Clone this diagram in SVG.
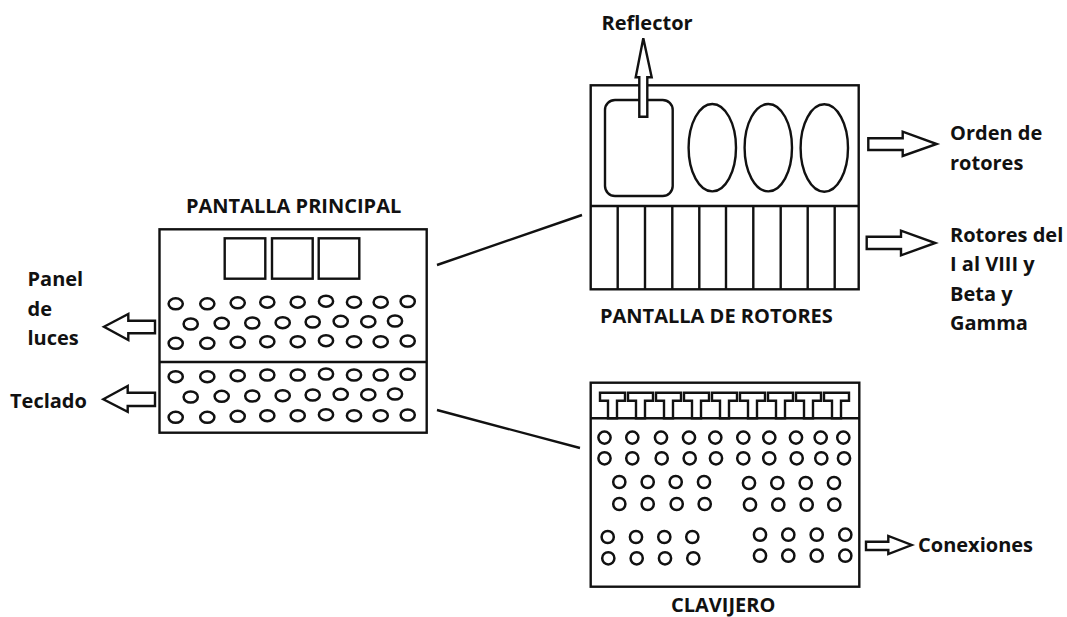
<svg xmlns="http://www.w3.org/2000/svg" width="1067" height="617" viewBox="0 0 1067 617">
<style>
text{font-family:"Open Sans","Noto Sans","Liberation Sans",sans-serif;font-weight:700;font-size:20px;fill:#111}
.s{fill:#fff;stroke:#111;stroke-width:2.4}
.n{fill:none;stroke:#111;stroke-width:2.4}
.d{fill:#fff;stroke:#111;stroke-width:2.5}
</style>
<rect width="1067" height="617" fill="#fff"/>
<g id="connectors">
<path class="n" d="M437 265L582 215M437 410L580 448"/>
</g>
<g id="pantalla-principal">
<text x="186" y="212.5">PANTALLA PRINCIPAL</text>
<rect class="s" x="159.5" y="229.3" width="267.2" height="203.4"/>
<path class="n" d="M159.5 362H426.7"/>
<rect class="s" x="224.7" y="238.3" width="40.6" height="40.4"/>
<rect class="s" x="272" y="238.3" width="40.7" height="40.4"/>
<rect class="s" x="318.7" y="238.3" width="40.6" height="40.4"/>
<g id="luces">
<ellipse class="d" cx="175.7" cy="303.8" rx="7.1" ry="5.5"/><ellipse class="d" cx="207.3" cy="303.8" rx="7.1" ry="5.5"/><ellipse class="d" cx="237.7" cy="302.8" rx="7.1" ry="5.5"/><ellipse class="d" cx="267.3" cy="302.2" rx="7.1" ry="5.5"/><ellipse class="d" cx="297.7" cy="302.2" rx="7.1" ry="5.5"/><ellipse class="d" cx="326" cy="301.2" rx="7.1" ry="5.5"/><ellipse class="d" cx="354" cy="302.2" rx="7.1" ry="5.5"/><ellipse class="d" cx="380.7" cy="302.2" rx="7.1" ry="5.5"/><ellipse class="d" cx="407.7" cy="301.5" rx="7.1" ry="5.5"/>
<ellipse class="d" cx="190.7" cy="324" rx="7.1" ry="5.5"/><ellipse class="d" cx="221.7" cy="323.3" rx="7.1" ry="5.5"/><ellipse class="d" cx="252.3" cy="323" rx="7.1" ry="5.5"/><ellipse class="d" cx="282.7" cy="322.7" rx="7.1" ry="5.5"/><ellipse class="d" cx="312.7" cy="322" rx="7.1" ry="5.5"/><ellipse class="d" cx="340.7" cy="321.3" rx="7.1" ry="5.5"/><ellipse class="d" cx="368.3" cy="321.7" rx="7.1" ry="5.5"/><ellipse class="d" cx="395" cy="321" rx="7.1" ry="5.5"/>
<ellipse class="d" cx="175.7" cy="343.3" rx="7.1" ry="5.5"/><ellipse class="d" cx="207.3" cy="343.3" rx="7.1" ry="5.5"/><ellipse class="d" cx="237.7" cy="342.3" rx="7.1" ry="5.5"/><ellipse class="d" cx="267.3" cy="341.7" rx="7.1" ry="5.5"/><ellipse class="d" cx="297.7" cy="341.7" rx="7.1" ry="5.5"/><ellipse class="d" cx="326" cy="340.7" rx="7.1" ry="5.5"/><ellipse class="d" cx="354" cy="341.7" rx="7.1" ry="5.5"/><ellipse class="d" cx="380.7" cy="341.7" rx="7.1" ry="5.5"/><ellipse class="d" cx="407.7" cy="341" rx="7.1" ry="5.5"/>
</g>
<g id="teclas">
<ellipse class="d" cx="175.7" cy="376.7" rx="7.1" ry="5.5"/><ellipse class="d" cx="207.3" cy="376.7" rx="7.1" ry="5.5"/><ellipse class="d" cx="237.7" cy="375.7" rx="7.1" ry="5.5"/><ellipse class="d" cx="267.3" cy="375" rx="7.1" ry="5.5"/><ellipse class="d" cx="297.7" cy="375" rx="7.1" ry="5.5"/><ellipse class="d" cx="326" cy="374" rx="7.1" ry="5.5"/><ellipse class="d" cx="354" cy="375" rx="7.1" ry="5.5"/><ellipse class="d" cx="380.7" cy="375" rx="7.1" ry="5.5"/><ellipse class="d" cx="407.7" cy="374.3" rx="7.1" ry="5.5"/>
<ellipse class="d" cx="190.7" cy="397" rx="7.1" ry="5.5"/><ellipse class="d" cx="221.7" cy="396.3" rx="7.1" ry="5.5"/><ellipse class="d" cx="252.3" cy="396" rx="7.1" ry="5.5"/><ellipse class="d" cx="282.7" cy="395.7" rx="7.1" ry="5.5"/><ellipse class="d" cx="312.7" cy="395" rx="7.1" ry="5.5"/><ellipse class="d" cx="340.7" cy="394.3" rx="7.1" ry="5.5"/><ellipse class="d" cx="368.3" cy="394.7" rx="7.1" ry="5.5"/><ellipse class="d" cx="395" cy="394" rx="7.1" ry="5.5"/>
<ellipse class="d" cx="175.7" cy="417.3" rx="7.1" ry="5.5"/><ellipse class="d" cx="207.3" cy="417.3" rx="7.1" ry="5.5"/><ellipse class="d" cx="237.7" cy="416.3" rx="7.1" ry="5.5"/><ellipse class="d" cx="267.3" cy="415.7" rx="7.1" ry="5.5"/><ellipse class="d" cx="297.7" cy="415.7" rx="7.1" ry="5.5"/><ellipse class="d" cx="326" cy="414.7" rx="7.1" ry="5.5"/><ellipse class="d" cx="354" cy="415.7" rx="7.1" ry="5.5"/><ellipse class="d" cx="380.7" cy="415.7" rx="7.1" ry="5.5"/><ellipse class="d" cx="407.7" cy="415" rx="7.1" ry="5.5"/>
</g>
<polygon class="s" points="104,326.7 128.3,314 128.3,320.7 155,320.7 155,333.3 128.3,333.3 128.3,340"/>
<polygon class="s" points="103.3,399.3 127.7,386 127.7,392.7 155,392.7 155,406 127.7,406 127.7,411.7"/>
<text x="27.5" y="286">Panel</text>
<text x="27.5" y="315.5">de</text>
<text x="27.5" y="345">luces</text>
<text x="10" y="408">Teclado</text>
</g>
<g id="pantalla-rotores">
<rect class="s" x="590.7" y="85.3" width="268" height="204"/>
<path class="n" d="M590.7 206H858.7M617.7 206V289M645 206V289M672.3 206V289M699.3 206V289M726 206V289M753.3 206V289M780.7 206V289M807.7 206V289M834.7 206V289"/>
<rect class="s" x="605" y="100" width="67.7" height="96" rx="10"/>
<ellipse class="s" cx="712.3" cy="147.7" rx="23.7" ry="43.7"/>
<ellipse class="s" cx="768.3" cy="147.7" rx="23.7" ry="43.7"/>
<ellipse class="s" cx="824.3" cy="148" rx="23.7" ry="43.7"/>
<polygon class="s" points="643.3,38.3 651.7,77.3 647.3,77.3 647.3,116.7 639.3,116.7 639.3,77.3 635.7,77.3"/>
<polygon class="s" points="868.3,138.3 902.7,138.3 902.7,131.7 936.7,144 902.7,156 902.7,150 868.3,150"/>
<polygon class="s" points="866.7,236.7 901,236.7 901,230.7 935.3,243 901,255.3 901,249 866.7,249"/>
<text x="601.5" y="30">Reflector</text>
<text x="950" y="140">Orden de</text>
<text x="950" y="170">rotores</text>
<text x="950" y="241.5">Rotores del</text>
<text x="950" y="271">I al VIII y</text>
<text x="950" y="301">Beta y</text>
<text x="950" y="330">Gamma</text>
<text x="600" y="322.5">PANTALLA DE ROTORES</text>
</g>
<g id="clavijero">
<rect class="s" x="590.7" y="382.7" width="268.6" height="204"/>
<path class="n" d="M590.7 418.3H859.3"/>
<g id="terminales">
<path class="s" d="M600 392.7H625V400.7H617V418.3H608V400.7H600Z"/>
<path class="s" d="M628 392.7H653V400.7H645V418.3H636V400.7H628Z"/>
<path class="s" d="M656 392.7H681V400.7H673V418.3H664V400.7H656Z"/>
<path class="s" d="M684 392.7H709V400.7H701V418.3H692V400.7H684Z"/>
<path class="s" d="M712 392.7H737V400.7H729V418.3H720V400.7H712Z"/>
<path class="s" d="M740 392.7H765V400.7H757V418.3H748V400.7H740Z"/>
<path class="s" d="M768 392.7H793V400.7H785V418.3H776V400.7H768Z"/>
<path class="s" d="M796 392.7H821V400.7H813V418.3H804V400.7H796Z"/>
<path class="s" d="M824 392.7H849V400.7H841V418.3H832V400.7H824Z"/>
</g>
<g id="clavijas">
<circle class="d" cx="604.5" cy="437.6" r="6.1"/><circle class="d" cx="632.3" cy="437.6" r="6.1"/><circle class="d" cx="661" cy="437.6" r="6.1"/><circle class="d" cx="689" cy="437.6" r="6.1"/><circle class="d" cx="715.3" cy="437.6" r="6.1"/><circle class="d" cx="743.3" cy="437.6" r="6.1"/><circle class="d" cx="769.3" cy="437.6" r="6.1"/><circle class="d" cx="796" cy="437.6" r="6.1"/><circle class="d" cx="820.7" cy="437.6" r="6.1"/><circle class="d" cx="843.3" cy="437.6" r="6.1"/>
<circle class="d" cx="604.5" cy="458.3" r="6.1"/><circle class="d" cx="632.3" cy="458.3" r="6.1"/><circle class="d" cx="661.7" cy="458.3" r="6.1"/><circle class="d" cx="689.7" cy="458.3" r="6.1"/><circle class="d" cx="716" cy="458.3" r="6.1"/><circle class="d" cx="743.3" cy="458.3" r="6.1"/><circle class="d" cx="769.3" cy="458.3" r="6.1"/><circle class="d" cx="796.7" cy="458.3" r="6.1"/><circle class="d" cx="821.3" cy="458.3" r="6.1"/><circle class="d" cx="844" cy="458.3" r="6.1"/>
<circle class="d" cx="619.3" cy="482" r="6.1"/><circle class="d" cx="647.7" cy="482" r="6.1"/><circle class="d" cx="675.7" cy="482" r="6.1"/><circle class="d" cx="704" cy="482" r="6.1"/><circle class="d" cx="749" cy="483" r="6.1"/><circle class="d" cx="777.3" cy="483" r="6.1"/><circle class="d" cx="805.7" cy="483" r="6.1"/><circle class="d" cx="834" cy="483" r="6.1"/>
<circle class="d" cx="619.3" cy="504" r="6.1"/><circle class="d" cx="647.7" cy="504" r="6.1"/><circle class="d" cx="676.7" cy="504" r="6.1"/><circle class="d" cx="704.7" cy="504" r="6.1"/><circle class="d" cx="750" cy="504.7" r="6.1"/><circle class="d" cx="778.3" cy="504.7" r="6.1"/><circle class="d" cx="806.7" cy="504.7" r="6.1"/><circle class="d" cx="834.3" cy="504.7" r="6.1"/>
<circle class="d" cx="607.7" cy="537" r="6.1"/><circle class="d" cx="636" cy="537" r="6.1"/><circle class="d" cx="664.3" cy="537" r="6.1"/><circle class="d" cx="692.3" cy="537" r="6.1"/><circle class="d" cx="760" cy="534.7" r="6.1"/><circle class="d" cx="788.3" cy="534.7" r="6.1"/><circle class="d" cx="816.7" cy="534.7" r="6.1"/><circle class="d" cx="845.3" cy="534.7" r="6.1"/>
<circle class="d" cx="608.3" cy="558.3" r="6.1"/><circle class="d" cx="636.7" cy="558.3" r="6.1"/><circle class="d" cx="665" cy="558.3" r="6.1"/><circle class="d" cx="693.3" cy="558.3" r="6.1"/><circle class="d" cx="760" cy="555.7" r="6.1"/><circle class="d" cx="788.3" cy="555.7" r="6.1"/><circle class="d" cx="816.7" cy="555.7" r="6.1"/><circle class="d" cx="845.3" cy="555.7" r="6.1"/>
</g>
<polygon class="s" points="866,541.7 888.3,541.7 888.3,536 911.7,545 888.3,554 888.3,550 866,550"/>
<text x="918" y="551.5">Conexiones</text>
<text x="671" y="612">CLAVIJERO</text>
</g>
</svg>
